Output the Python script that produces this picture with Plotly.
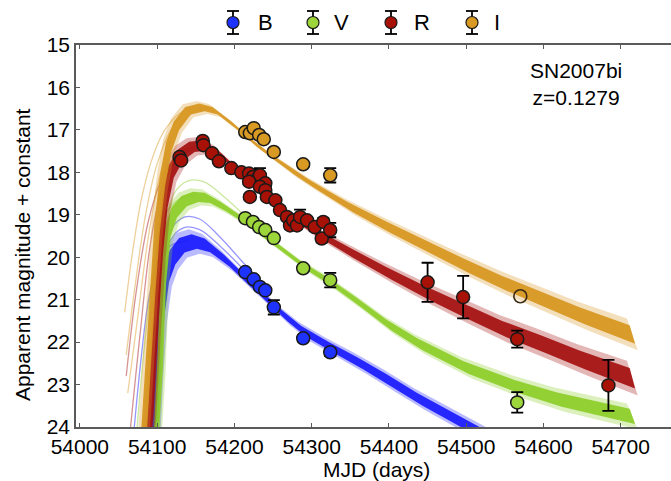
import plotly.graph_objects as go

# ---------------- photometry (MJD, magnitude, 1-sigma error) ----------------
B_mjd = [54214, 54225, 54233, 54240, 54251, 54289, 54324]
B_mag = [20.35, 20.52, 20.70, 20.78, 21.18, 21.91, 22.24]
B_err = [0.06, 0.06, 0.07, 0.07, 0.17, 0.08, 0.09]

V_mjd = [54214, 54224, 54232, 54240, 54251, 54289, 54324, 54566]
V_mag = [19.08, 19.17, 19.29, 19.36, 19.55, 20.26, 20.54, 23.42]
V_err = [0.05, 0.05, 0.06, 0.06, 0.06, 0.07, 0.17, 0.24]

R_mjd = [54129, 54131, 54159, 54160, 54171, 54180, 54196, 54209, 54219, 54224,
         54229, 54233, 54240, 54219, 54220, 54233, 54240, 54242, 54253, 54259,
         54268, 54272, 54276, 54281, 54285, 54294, 54304, 54313, 54315, 54324,
         54450, 54496, 54566, 54684]
R_mag = [17.64, 17.72, 17.26, 17.36, 17.55, 17.74, 17.90, 18.00, 18.03, 18.11,
         18.17, 18.07, 18.26, 18.22, 18.58, 18.34, 18.42, 18.58, 18.66, 18.89,
         19.05, 19.25, 19.13, 19.25, 19.05, 19.13, 19.29, 19.56, 19.17, 19.36,
         20.59, 20.94, 21.93, 23.02]
R_err = [0.05, 0.05, 0.05, 0.05, 0.05, 0.05, 0.06, 0.06, 0.06, 0.17,
         0.06, 0.17, 0.06, 0.06, 0.07, 0.07, 0.07, 0.07, 0.07, 0.08,
         0.08, 0.08, 0.08, 0.08, 0.17, 0.08, 0.09, 0.09, 0.09, 0.17,
         0.46, 0.50, 0.20, 0.60]

I_mjd = [54214, 54220, 54225, 54232, 54238, 54251, 54289, 54324]
I_mag = [17.05, 17.08, 16.96, 17.12, 17.22, 17.52, 17.81, 18.07]
I_err = [0.05, 0.05, 0.05, 0.05, 0.06, 0.06, 0.07, 0.17]
I_lim_mjd = [54570]
I_lim_mag = [20.92]

# ---------------- model light-curve bands (centre, half-width) ----------------
B_mod_t = [54090, 54097, 54101, 54106, 54112, 54120, 54132, 54148, 54165, 54190,
           54215, 54240, 54265, 54290, 54325, 54363, 54400, 54440, 54480, 54520, 54560]
B_mod_m = [25.2, 24.0, 22.5, 21.2, 20.4, 20.0, 19.72, 19.63, 19.72, 20.08,
           20.52, 20.95, 21.38, 21.75, 22.12, 22.50, 22.90, 23.35, 23.75, 24.15, 24.55]
B_mod_w = [0.17, 0.17, 0.17, 0.17, 0.17, 0.17, 0.17, 0.17, 0.16, 0.14,
           0.13, 0.13, 0.13, 0.13, 0.13, 0.14, 0.15, 0.15, 0.16, 0.16, 0.16]

V_mod_t = [54095, 54100, 54104, 54108, 54114, 54122, 54135, 54150, 54165, 54185,
           54210, 54235, 54260, 54290, 54325, 54360, 54400, 54440, 54500, 54566,
           54620, 54715]
V_mod_m = [25.2, 24.0, 22.5, 20.5, 19.4, 18.95, 18.68, 18.58, 18.60, 18.80,
           19.10, 19.45, 19.80, 20.20, 20.60, 21.05, 21.60, 22.05, 22.60, 23.05,
           23.35, 23.75]
V_mod_w = [0.12, 0.12, 0.12, 0.12, 0.12, 0.12, 0.12, 0.12, 0.12, 0.11,
           0.10, 0.10, 0.10, 0.10, 0.11, 0.12, 0.13, 0.14, 0.15, 0.16,
           0.17, 0.18]

R_mod_t = [54085, 54092, 54098, 54104, 54110, 54118, 54130, 54145, 54160, 54180,
           54200, 54225, 54250, 54275, 54300, 54325, 54350, 54400, 54450, 54500,
           54550, 54600, 54650, 54715]
R_mod_m = [25.0, 23.5, 21.5, 19.8, 18.7, 18.0, 17.60, 17.40, 17.37, 17.55,
           17.88, 18.30, 18.70, 19.05, 19.35, 19.62, 19.88, 20.38, 20.85, 21.28,
           21.70, 22.05, 22.42, 22.85]
R_mod_w = [0.13, 0.13, 0.13, 0.13, 0.13, 0.13, 0.13, 0.12, 0.12, 0.11,
           0.10, 0.10, 0.10, 0.10, 0.11, 0.12, 0.13, 0.15, 0.17, 0.19,
           0.20, 0.21, 0.22, 0.24]

I_mod_t = [54080, 54087, 54094, 54100, 54107, 54115, 54125, 54140, 54158, 54175,
           54200, 54225, 54250, 54275, 54300, 54325, 54350, 54400, 54450, 54500,
           54550, 54600, 54650, 54715]
I_mod_m = [25.0, 23.0, 20.8, 19.3, 18.2, 17.4, 16.90, 16.55, 16.47, 16.55,
           16.90, 17.30, 17.65, 17.97, 18.27, 18.55, 18.82, 19.30, 19.75, 20.20,
           20.62, 21.00, 21.38, 21.82]
I_mod_w = [0.11, 0.11, 0.11, 0.11, 0.11, 0.11, 0.10, 0.09, 0.09, 0.09,
           0.09, 0.09, 0.09, 0.10, 0.10, 0.11, 0.12, 0.14, 0.15, 0.17,
           0.18, 0.19, 0.20, 0.22]

# individual outlying model realisations (early starts / brighter peaks)
B_fan = [
    ([54093, 54099, 54106, 54118, 54136, 54155, 54180, 54210, 54240],
     [24.5, 22.0, 20.3, 19.35, 19.05, 19.10, 19.50, 20.10, 20.70]),
    ([54092, 54098, 54105, 54117, 54135, 54155, 54185, 54215],
     [24.5, 22.3, 20.6, 19.60, 19.30, 19.35, 19.80, 20.35]),
    ([54068, 54078, 54090, 54104, 54120, 54140],
     [24.5, 22.6, 20.9, 20.00, 19.70, 19.62]),
]
V_fan = [
    ([54097, 54103, 54110, 54122, 54140, 54160, 54185, 54215],
     [24.5, 21.8, 19.6, 18.50, 18.20, 18.22, 18.55, 19.05]),
    ([54072, 54084, 54098, 54112, 54130, 54150],
     [24.5, 22.0, 20.0, 18.95, 18.62, 18.55]),
]
R_fan = [
    ([54060, 54073, 54088, 54105, 54125, 54150],
     [22.8, 20.8, 19.2, 18.20, 17.60, 17.38]),
    ([54064, 54078, 54092, 54108, 54128, 54155],
     [24.3, 21.8, 19.6, 18.30, 17.65, 17.40]),
]
I_fan = [
    ([54058, 54068, 54080, 54095, 54110, 54130, 54150, 54170],
     [21.3, 19.9, 18.6, 17.6, 17.0, 16.6, 16.45, 16.50]),
    ([54060, 54072, 54085, 54100, 54118, 54140, 54165],
     [22.3, 20.6, 19.0, 17.8, 17.0, 16.55, 16.48]),
    ([54062, 54075, 54088, 54102, 54120, 54145, 54170],
     [23.2, 21.4, 19.6, 18.2, 17.2, 16.60, 16.50]),
]

band_names = ["B", "V", "R", "I"]
band_rgb = {"B": (25, 25, 255), "V": (140, 205, 40), "R": (165, 15, 15), "I": (215, 150, 30)}
marker_col = {"B": "#1f33ff", "V": "#9cd63a", "R": "#a81206", "I": "#d89a22"}

x_ticks = [54000, 54100, 54200, 54300, 54400, 54500, 54600, 54700]
y_ticks = [15, 16, 17, 18, 19, 20, 21, 22, 23, 24]


def rgba(c, a):
    return "rgba(%d,%d,%d,%.2f)" % (c[0], c[1], c[2], a)


def band_polygon(t, m, w, dt, scale):
    """Closed outline of a model band: bright/early edge then faint/late edge."""
    up_x = [ti - dt for ti in t]
    up_y = [mi - wi * scale for mi, wi in zip(m, w)]
    lo_x = [ti + dt for ti in t]
    lo_y = [mi + wi * scale for mi, wi in zip(m, w)]
    return up_x + lo_x[::-1], up_y + lo_y[::-1]


fig = go.Figure()

models = {
    "B": (B_mod_t, B_mod_m, B_mod_w, B_fan),
    "V": (V_mod_t, V_mod_m, V_mod_w, V_fan),
    "R": (R_mod_t, R_mod_m, R_mod_w, R_fan),
    "I": (I_mod_t, I_mod_m, I_mod_w, I_fan),
}

for b in band_names:
    t, m, w, fans = models[b]
    col = band_rgb[b]
    for tf, mf in fans:
        fig.add_trace(go.Scatter(x=tf, y=mf, mode="lines", hoverinfo="skip",
                                 line=dict(color=rgba(col, 0.45), width=1.3, shape="spline")))
    # faint outer envelope
    xo, yo = band_polygon(t, m, w, 7, 1.7)
    fig.add_trace(go.Scatter(x=xo, y=yo, mode="lines", fill="toself", hoverinfo="skip",
                             fillcolor=rgba(col, 0.30), line=dict(width=0)))
    # dense core
    xc, yc = band_polygon(t, m, w, 3.5, 1.0)
    fig.add_trace(go.Scatter(x=xc, y=yc, mode="lines", fill="toself", hoverinfo="skip",
                             fillcolor=rgba(col, 0.92), line=dict(width=0)))

data = {
    "B": (B_mjd, B_mag, B_err),
    "V": (V_mjd, V_mag, V_err),
    "R": (R_mjd, R_mag, R_err),
    "I": (I_mjd, I_mag, I_err),
}
for b in band_names:
    x, y, e = data[b]
    fig.add_trace(go.Scatter(
        x=x, y=y, mode="markers", name=b,
        error_y=dict(type="data", array=e, color="black", thickness=1.8, width=6),
        marker=dict(size=13, color=marker_col[b], line=dict(color="#1a1a1a", width=1.5)),
    ))

fig.add_trace(go.Scatter(
    x=I_lim_mjd, y=I_lim_mag, mode="markers", name="I (open)",
    marker=dict(size=13, symbol="circle-open", color="#3a2a12", line=dict(width=1.6)),
))

# plot-area geometry used for paper-coordinate placement of the key
L, R_, T, Bt = 76, 0, 45, 54
W, H = 671, 481
pw, ph = W - L - R_, H - T - Bt


def px_to_paper(px, py):
    return (px - L) / pw, (H - Bt - py) / ph


shapes = []
annotations = []
key_x = [233, 313, 391, 472]
key_text_x = [256, 332, 412, 492]
key_y = 22.5
for b, kx, tx in zip(band_names, key_x, key_text_x):
    ax, ay = px_to_paper(kx, key_y)
    common = dict(xref="paper", yref="paper", xsizemode="pixel", ysizemode="pixel",
                  xanchor=ax, yanchor=ay)
    shapes.append(dict(type="line", x0=0, x1=0, y0=-11.5, y1=11.5,
                       line=dict(color="black", width=1.8), **common))
    shapes.append(dict(type="line", x0=-6, x1=6, y0=11.5, y1=11.5,
                       line=dict(color="black", width=1.8), **common))
    shapes.append(dict(type="line", x0=-6, x1=6, y0=-11.5, y1=-11.5,
                       line=dict(color="black", width=1.8), **common))
    shapes.append(dict(type="circle", x0=-6, x1=6, y0=-6, y1=6,
                       fillcolor=marker_col[b], line=dict(color="#1a1a1a", width=1.2), **common))
    lx, ly = px_to_paper(tx, key_y)
    annotations.append(dict(x=lx, y=ly, xref="paper", yref="paper", text=b, showarrow=False,
                            xanchor="left", yanchor="middle", font=dict(size=22)))

nx, ny = px_to_paper(576, 84)
annotations.append(dict(x=nx, y=ny, xref="paper", yref="paper",
                        text="SN2007bi<br>z=0.1279", showarrow=False, align="center",
                        xanchor="center", yanchor="middle", font=dict(size=21)))

tx_, ty_ = px_to_paper(376, 469)
annotations.append(dict(x=tx_, y=ty_, xref="paper", yref="paper", text="MJD (days)",
                        showarrow=False, xanchor="center", yanchor="middle", font=dict(size=21)))
yx_, yy_ = px_to_paper(22, 255)
annotations.append(dict(x=yx_, y=yy_, xref="paper", yref="paper",
                        text="Apparent magnitude + constant", textangle=-90,
                        showarrow=False, xanchor="center", yanchor="middle", font=dict(size=21)))

axis_col = "#5a5a5a"
fig.update_layout(
    width=W, height=H,
    margin=dict(l=L, r=R_, t=T, b=Bt, pad=0),
    plot_bgcolor="white", paper_bgcolor="white",
    showlegend=False,
    font=dict(family="Liberation Sans, Arial, Helvetica, sans-serif", size=21, color="black"),
    shapes=shapes, annotations=annotations,
    xaxis=dict(range=[53995, 54765], tickvals=x_ticks, ticktext=[str(v) for v in x_ticks],
               ticks="inside", ticklen=4, tickwidth=1.2, tickcolor=axis_col,
               showline=True, linecolor=axis_col, linewidth=1.5, mirror="ticks",
               showgrid=False, zeroline=False, tickfont=dict(size=21)),
    yaxis=dict(range=[24, 15], tickvals=y_ticks, ticktext=[str(v) for v in y_ticks],
               ticks="inside", ticklen=4, tickwidth=1.2, tickcolor=axis_col,
               showline=True, linecolor=axis_col, linewidth=1.5, mirror=False,
               showgrid=False, zeroline=False, tickfont=dict(size=21)),
)

fig.write_html("out.html")
